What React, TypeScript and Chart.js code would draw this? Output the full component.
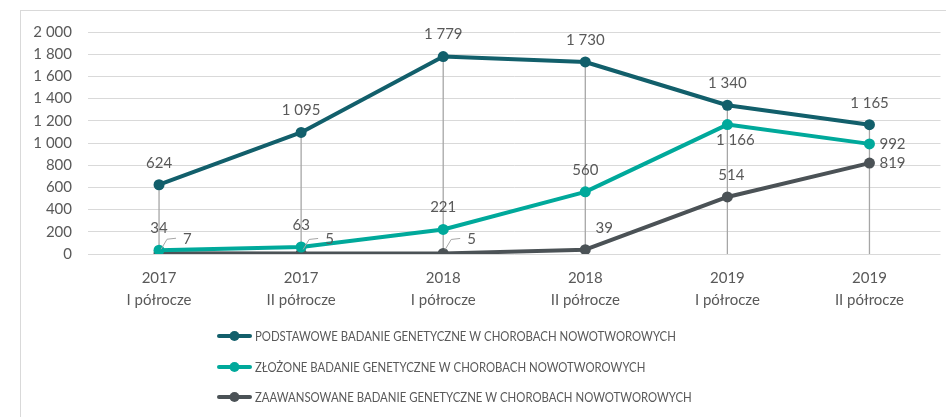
import React, { useEffect, useRef } from 'react';
import { Chart, registerables } from 'chart.js';

Chart.register(...registerables);

const categories: string[][] = [
  ['2017', 'I półrocze'],
  ['2017', 'II półrocze'],
  ['2018', 'I półrocze'],
  ['2018', 'II półrocze'],
  ['2019', 'I półrocze'],
  ['2019', 'II półrocze'],
];

const seriesNames = [
  'PODSTAWOWE BADANIE GENETYCZNE W CHOROBACH NOWOTWOROWYCH',
  'ZŁOŻONE BADANIE GENETYCZNE W CHOROBACH NOWOTWOROWYCH',
  'ZAAWANSOWANE BADANIE GENETYCZNE W CHOROBACH NOWOTWOROWYCH',
];

const podstawowe = [624, 1095, 1779, 1730, 1340, 1165];
const zlozone = [34, 63, 221, 560, 1166, 992];
const zaawansowane = [7, 5, 5, 39, 514, 819];

const yMin = 0;
const yMax = 2000;
const yStep = 200;

// label placement per point (style, not data)
const placePodstawowe = ['above', 'above', 'above', 'above', 'above', 'above'];
const placeZlozone = ['above', 'above', 'above', 'above', 'below', 'right'];
const placeZaawansowane = ['leader', 'leader', 'leader', 'aboveRight', 'above', 'right'];

const colors = ['#125f6b', '#00a99b', '#4b5256'];
const textColor = '#595959';
const FONT = 'Lato, "Open Sans", sans-serif';

const fmt = (v: number) => String(v).replace(/\B(?=(\d{3})+(?!\d))/g, ' ');

const dropLinesPlugin = {
  id: 'dropLines',
  beforeDatasetsDraw(chart: any) {
    const { ctx } = chart;
    const metas = chart.data.datasets.map((_: any, i: number) => chart.getDatasetMeta(i));
    const yScale = chart.scales.y;
    const n = chart.data.labels.length;
    ctx.save();
    ctx.strokeStyle = '#a6a6a6';
    ctx.lineWidth = 1.3;
    for (let i = 0; i < n; i++) {
      let top = Infinity;
      let px = 0;
      metas.forEach((m: any) => {
        const p = m.data[i];
        if (p.y < top) top = p.y;
        px = p.x;
      });
      ctx.beginPath();
      ctx.moveTo(px, top);
      ctx.lineTo(px, yScale.getPixelForValue(0));
      ctx.stroke();
    }
    ctx.restore();
  },
};

const placements = [placePodstawowe, placeZlozone, placeZaawansowane];

const labelsPlugin = {
  id: 'pointLabels',
  afterDatasetsDraw(chart: any) {
    const { ctx } = chart;
    ctx.save();
    ctx.font = `15px ${FONT}`;
    ctx.fillStyle = textColor;
    ctx.textBaseline = 'middle';
    chart.data.datasets.forEach((ds: any, d: number) => {
      const meta = chart.getDatasetMeta(d);
      meta.data.forEach((p: any, i: number) => {
        const txt = fmt(ds.data[i]);
        const place = placements[d][i];
        const x = p.x;
        const y = p.y;
        if (place === 'above') {
          ctx.textAlign = 'center';
          ctx.fillText(txt, x + (d === 2 ? 4 : 0), y - 22);
        } else if (place === 'below') {
          ctx.textAlign = 'center';
          ctx.fillText(txt, x + 8, y + 16);
        } else if (place === 'right') {
          ctx.textAlign = 'left';
          ctx.fillText(txt, x + 10, y);
        } else if (place === 'aboveRight') {
          ctx.textAlign = 'center';
          ctx.fillText(txt, x + 19, y - 22);
        } else if (place === 'leader') {
          ctx.strokeStyle = '#a6a6a6';
          ctx.lineWidth = 1;
          ctx.beginPath();
          ctx.moveTo(x + 2, y - 4);
          ctx.lineTo(x + 8, y - 14);
          ctx.lineTo(x + 17, y - 15);
          ctx.stroke();
          ctx.textAlign = 'left';
          ctx.fillText(txt, x + 24, y - 14);
        }
      });
    });
    ctx.restore();
  },
};

const legendPlugin = {
  id: 'customLegend',
  afterDraw(chart: any) {
    const { ctx } = chart;
    ctx.save();
    const x0 = 217;
    const x1 = 252;
    const rows = [336, 367, 397];
    const squeeze = 0.875;
    chart.data.datasets.forEach((ds: any, d: number) => {
      const y = rows[d];
      ctx.strokeStyle = ds.borderColor;
      ctx.lineWidth = 4;
      ctx.lineCap = 'round';
      ctx.beginPath();
      ctx.moveTo(x0 + 2, y);
      ctx.lineTo(x1 - 2, y);
      ctx.stroke();
      ctx.fillStyle = ds.borderColor;
      ctx.beginPath();
      ctx.arc((x0 + x1) / 2, y, 5, 0, Math.PI * 2);
      ctx.fill();
      ctx.save();
      ctx.translate(x1 + 3, y + 1);
      ctx.scale(squeeze, 1);
      ctx.fillStyle = textColor;
      ctx.font = `13px ${FONT}`;
      ctx.textAlign = 'left';
      ctx.textBaseline = 'middle';
      ctx.fillText(ds.label, 0, 0);
      ctx.restore();
    });
    ctx.restore();
  },
};

export default function App() {
  const ref = useRef<HTMLCanvasElement>(null);

  useEffect(() => {
    const mk = (label: string, data: number[], color: string) => ({
      label,
      data,
      borderColor: color,
      backgroundColor: color,
      pointBackgroundColor: color,
      pointBorderColor: color,
      pointBorderWidth: 0,
      pointRadius: 5.5,
      borderWidth: 4,
      borderJoinStyle: 'round' as const,
      borderCapStyle: 'round' as const,
      tension: 0,
      fill: false,
    });
    const chart = new Chart(ref.current!, {
      type: 'line',
      data: {
        labels: categories,
        datasets: [
          mk(seriesNames[0], podstawowe, colors[0]),
          mk(seriesNames[1], zlozone, colors[1]),
          mk(seriesNames[2], zaawansowane, colors[2]),
        ],
      },
      options: {
        responsive: false,
        devicePixelRatio: 1,
        animation: false,
        layout: { padding: { left: 0, right: 3, top: 32, bottom: 103 } },
        plugins: {
          legend: { display: false },
          tooltip: { enabled: false },
        },
        scales: {
          x: {
            offset: true,
            grid: { display: false },
            border: { display: false },
            ticks: {
              color: textColor,
              font: { family: FONT, size: 15, lineHeight: 1.47 },
              padding: 5,
              maxRotation: 0,
              autoSkip: false,
            },
            afterFit: (s: any) => {
              s.height = 60;
            },
          },
          y: {
            min: yMin,
            max: yMax,
            grid: { color: '#d9d9d9', lineWidth: 1, drawTicks: false },
            border: { display: false },
            ticks: {
              stepSize: yStep,
              color: textColor,
              font: { family: FONT, size: 15 },
              padding: 16,
              callback: (v: any) => fmt(Number(v)),
            },
            afterFit: (s: any) => {
              s.width = 88;
            },
          },
        },
      },
      plugins: [dropLinesPlugin, labelsPlugin, legendPlugin],
    });
    return () => chart.destroy();
  }, []);

  return (
    <div style={{ position: 'fixed', left: 0, top: 0, width: 946, height: 417, background: '#fff', overflow: 'hidden' }}>
      <div
        style={{
          position: 'absolute',
          left: 20,
          top: 10,
          width: 1000,
          height: 500,
          border: '1px solid #d9d9d9',
          boxSizing: 'border-box',
        }}
      />
      <canvas
        ref={ref}
        width={946}
        height={417}
        style={{ position: 'absolute', left: 0, top: 0, width: 946, height: 417 }}
      />
    </div>
  );
}
